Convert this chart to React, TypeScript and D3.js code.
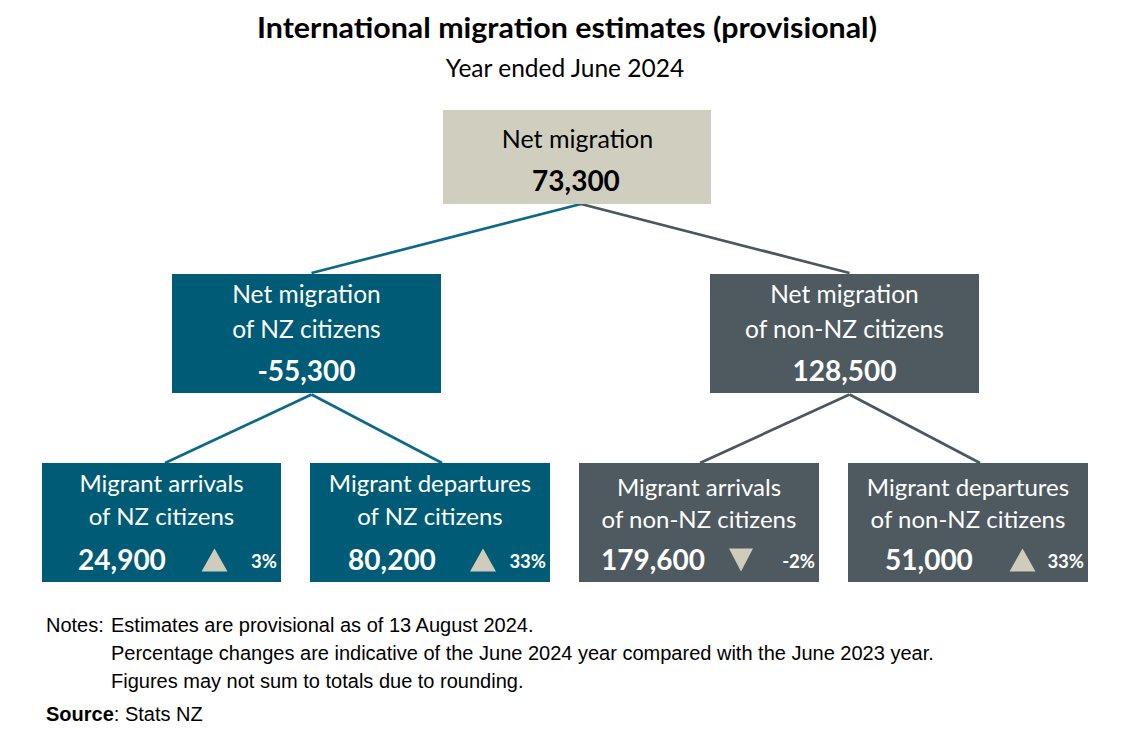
import React from "react";
import * as d3 from "d3";

// ---------- data ----------
const titleText = "International migration estimates (provisional)";
const subtitleText = "Year ended June 2024";

const topLabel = ["Net migration"];
const topValue = 73300;

const midLabels = [
  ["Net migration", "of NZ citizens"],
  ["Net migration", "of non-NZ citizens"],
];
const midValues = [-55300, 128500];

const leafLabels = [
  ["Migrant arrivals", "of NZ citizens"],
  ["Migrant departures", "of NZ citizens"],
  ["Migrant arrivals", "of non-NZ citizens"],
  ["Migrant departures", "of non-NZ citizens"],
];
const leafValues = [24900, 80200, 179600, 51000];
const leafChanges = [3, 33, -2, 33];
const leafGroup = [0, 0, 1, 1];

const notes = [
  "Estimates are provisional as of 13 August 2024.",
  "Percentage changes are indicative of the June 2024 year compared with the June 2023 year.",
  "Figures may not sum to totals due to rounding.",
];
const sourceText = "Stats NZ";

// ---------- styling / layout ----------
const W = 1140;
const H = 731;
const FONT = "Lato, 'Open Sans', sans-serif";
const NOTE_FONT = "'Liberation Sans', Arial, sans-serif";
const TEAL = "#005b76";
const GREY = "#4e5a60";
const BEIGE = "#d0cfbf";
const TRI = "#cfccbb";
const LINE_TEAL = "#0c6a86";
const LINE_GREY = "#4b575e";

const topBox = { x: 443, y: 110, w: 268, h: 94 };
const midBoxes = [
  { x: 172, y: 274, w: 269, h: 119 },
  { x: 710, y: 274, w: 269, h: 119 },
];
const leafBoxes = [
  { x: 42, y: 463, w: 239, h: 119 },
  { x: 310, y: 463, w: 240, h: 119 },
  { x: 579, y: 463, w: 240, h: 119 },
  { x: 848, y: 463, w: 240, h: 119 },
];
const leafNumCenter = [80, 82, 74, 81];
const leafTriCenter = [172.5, 173, 162, 174.5];
const leafAnchorX = [123, 132, 121, 132];
const leafLabelBaselines = [
  [29, 62],
  [29, 62],
  [33, 65],
  [33, 65],
];

const fmt = (v: number) => d3.format(",")(v).replace("\u2212", "-");
const pct = (v: number) => `${v}%`;

export default function App() {
  const line = d3.line<[number, number]>().x((d) => d[0]).y((d) => d[1]);

  const topAnchor: [number, number] = [topBox.x + topBox.w / 2 + 4, topBox.y + topBox.h];
  const midTop = midBoxes.map((b) => [b.x + b.w / 2 + 5, b.y - 1] as [number, number]);
  const midBottom = midBoxes.map((b) => [b.x + b.w / 2 + 5, b.y + b.h + 1.5] as [number, number]);
  const leafTop = leafBoxes.map((b, i) => [b.x + leafAnchorX[i], b.y] as [number, number]);

  const triPath = (cx: number, baseY: number, up: boolean) => {
    const pts: [number, number][] = up
      ? [[cx - 13, baseY], [cx + 13, baseY], [cx, baseY - 23]]
      : [[cx - 12, baseY - 23], [cx + 12, baseY - 23], [cx, baseY]];
    return line(pts)! + "Z";
  };

  return (
    <svg width={W} height={H} style={{ position: "absolute", left: 0, top: 0, background: "#fff" }}>
      <rect width={W} height={H} fill="#fff" />
      {/* Title */}
      <text x={257} y={38} textLength={620} lengthAdjust="spacingAndGlyphs" fontFamily={FONT} fontWeight={700} fontSize={28.5} fill="#000">
        {titleText}
      </text>
      <text x={565} y={77} textAnchor="middle" fontFamily={FONT} fontSize={24.5} fill="#000">
        {subtitleText}
      </text>

      {/* Connectors */}
      {midTop.map((p, i) => (
        <path key={"c1" + i} d={line([topAnchor, p])!} stroke={i === 0 ? LINE_TEAL : LINE_GREY} strokeWidth={2.7} fill="none" />
      ))}
      {leafTop.map((p, i) => (
        <path key={"c2" + i} d={line([midBottom[leafGroup[i]], p])!} stroke={leafGroup[i] === 0 ? LINE_TEAL : LINE_GREY} strokeWidth={2.7} fill="none" />
      ))}

      {/* Top box */}
      <rect x={topBox.x} y={topBox.y} width={topBox.w} height={topBox.h} fill={BEIGE} />
      <text x={topBox.x + topBox.w / 2 + 0.5} y={topBox.y + 38} textAnchor="middle" fontFamily={FONT} fontSize={25} fill="#000">
        {topLabel[0]}
      </text>
      <text x={topBox.x + topBox.w / 2 - 1} y={topBox.y + 81} textAnchor="middle" fontFamily={FONT} fontWeight={700} fontSize={28} fill="#000">
        {fmt(topValue)}
      </text>

      {/* Middle boxes */}
      {midBoxes.map((b, i) => (
        <g key={"m" + i}>
          <rect x={b.x} y={b.y} width={b.w} height={b.h} fill={i === 0 ? TEAL : GREY} />
          {midLabels[i].map((t, j) => (
            <text key={j} x={b.x + b.w / 2} y={b.y + 29 + j * 35} textAnchor="middle" fontFamily={FONT} fontSize={24.5} fill="#fff">
              {t}
            </text>
          ))}
          <text x={b.x + b.w / 2} y={b.y + 107} textAnchor="middle" fontFamily={FONT} fontWeight={700} fontSize={28} fill="#fff">
            {fmt(midValues[i])}
          </text>
        </g>
      ))}

      {/* Leaf boxes */}
      {leafBoxes.map((b, i) => (
        <g key={"l" + i}>
          <rect x={b.x} y={b.y} width={b.w} height={b.h} fill={leafGroup[i] === 0 ? TEAL : GREY} />
          {leafLabels[i].map((t, j) => (
            <text key={j} x={b.x + b.w / 2} y={b.y + leafLabelBaselines[i][j]} textAnchor="middle" fontFamily={FONT} fontSize={24} fill="#fff">
              {t}
            </text>
          ))}
          <text x={b.x + leafNumCenter[i]} y={b.y + 107} textAnchor="middle" fontFamily={FONT} fontWeight={700} fontSize={28} fill="#fff">
            {fmt(leafValues[i])}
          </text>
          <path d={triPath(b.x + leafTriCenter[i], b.y + 108.5, leafChanges[i] >= 0)} fill={TRI} />
          <text x={b.x + b.w - 4} y={b.y + 104.5} textAnchor="end" fontFamily={FONT} fontWeight={700} fontSize={18.5} fill="#fff">
            {pct(leafChanges[i])}
          </text>
        </g>
      ))}

      {/* Notes */}
      <text x={46} y={632} fontFamily={NOTE_FONT} fontSize={20} fill="#000">Notes:</text>
      {notes.map((n, i) => (
        <text key={i} x={111} y={632 + i * 28} fontFamily={NOTE_FONT} fontSize={20} fill="#000">
          {n}
        </text>
      ))}
      <text x={46} y={721} fontFamily={NOTE_FONT} fontSize={20} fill="#000">
        <tspan fontWeight={700}>Source</tspan>
        <tspan>: {sourceText}</tspan>
      </text>
    </svg>
  );
}
